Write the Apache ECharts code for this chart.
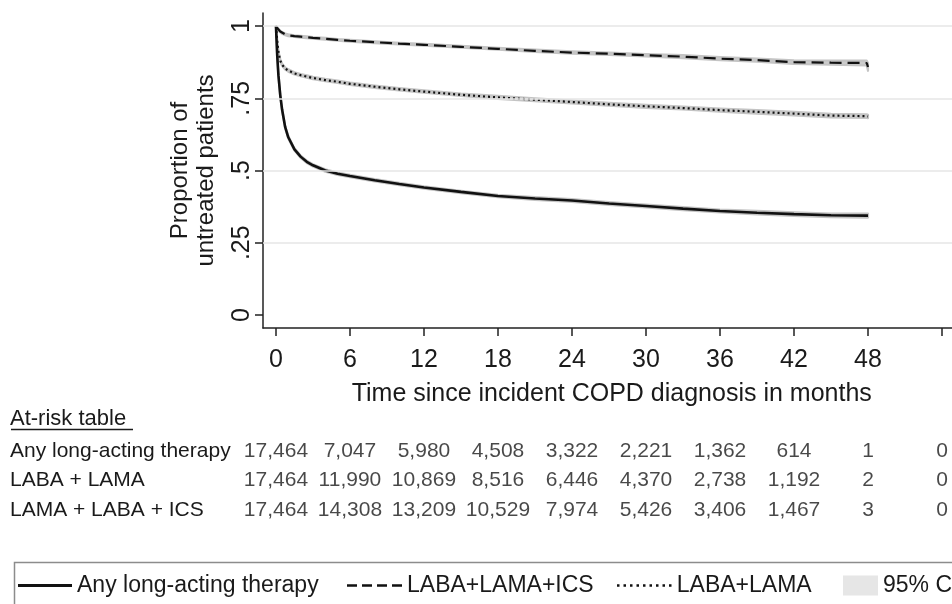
<!DOCTYPE html>
<html>
<head>
<meta charset="utf-8">
<script src="https://cdn.jsdelivr.net/npm/echarts@6/dist/echarts.min.js"></script>
<style>
  html, body { margin: 0; padding: 0; background: #fff; }
  #chart { width: 952px; height: 604px; }
</style>
</head>
<body>
<div id="chart"></div>
<script>
// ---------- data ----------
const time = [0, 0.1, 0.2, 0.35, 0.5, 0.75, 1, 1.5, 2, 2.5, 3, 4, 5, 6, 8, 10, 12, 15, 18, 21, 24, 27, 30, 33, 36, 39, 42, 45, 47.9, 48];

const anyKM = [1, 0.90, 0.83, 0.76, 0.71, 0.65, 0.615, 0.573, 0.548, 0.530, 0.518, 0.500, 0.489, 0.481, 0.466, 0.453, 0.441, 0.426, 0.412, 0.403, 0.396, 0.386, 0.377, 0.368, 0.360, 0.354, 0.349, 0.345, 0.344, 0.344];
const anyLo = [1, 0.896, 0.826, 0.756, 0.706, 0.646, 0.611, 0.569, 0.544, 0.526, 0.514, 0.496, 0.485, 0.477, 0.462, 0.449, 0.437, 0.422, 0.408, 0.398, 0.391, 0.381, 0.372, 0.363, 0.355, 0.348, 0.343, 0.339, 0.337, 0.337];
const anyHi = [1, 0.904, 0.834, 0.764, 0.714, 0.654, 0.619, 0.577, 0.552, 0.534, 0.522, 0.504, 0.493, 0.485, 0.470, 0.457, 0.445, 0.430, 0.416, 0.408, 0.401, 0.391, 0.382, 0.373, 0.365, 0.360, 0.355, 0.351, 0.351, 0.351];

const tripleKM = [1, 0.993, 0.987, 0.981, 0.976, 0.971, 0.968, 0.965, 0.963, 0.961, 0.959, 0.956, 0.952, 0.949, 0.944, 0.939, 0.935, 0.928, 0.921, 0.914, 0.908, 0.904, 0.899, 0.894, 0.887, 0.882, 0.875, 0.873, 0.872, 0.858];
const tripleLo = [1, 0.990, 0.984, 0.978, 0.973, 0.968, 0.965, 0.962, 0.960, 0.958, 0.956, 0.953, 0.949, 0.946, 0.941, 0.936, 0.932, 0.925, 0.918, 0.910, 0.904, 0.900, 0.895, 0.889, 0.882, 0.877, 0.869, 0.866, 0.864, 0.845];
const tripleHi = [1, 0.996, 0.990, 0.984, 0.979, 0.974, 0.971, 0.968, 0.966, 0.964, 0.962, 0.959, 0.955, 0.952, 0.947, 0.942, 0.938, 0.931, 0.924, 0.918, 0.912, 0.908, 0.903, 0.899, 0.892, 0.887, 0.881, 0.880, 0.880, 0.872];

const dualKM = [1, 0.95, 0.91, 0.88, 0.866, 0.853, 0.846, 0.836, 0.830, 0.825, 0.820, 0.813, 0.807, 0.800, 0.790, 0.781, 0.773, 0.762, 0.753, 0.745, 0.737, 0.729, 0.722, 0.716, 0.709, 0.703, 0.697, 0.690, 0.688, 0.687];
const dualLo = [1, 0.946, 0.906, 0.876, 0.862, 0.849, 0.842, 0.832, 0.826, 0.821, 0.816, 0.809, 0.803, 0.796, 0.786, 0.777, 0.769, 0.758, 0.748, 0.740, 0.732, 0.724, 0.717, 0.711, 0.704, 0.697, 0.691, 0.684, 0.682, 0.681];
const dualHi = [1, 0.954, 0.914, 0.884, 0.870, 0.857, 0.850, 0.840, 0.834, 0.829, 0.824, 0.817, 0.811, 0.804, 0.794, 0.785, 0.777, 0.766, 0.758, 0.750, 0.742, 0.734, 0.727, 0.721, 0.714, 0.709, 0.703, 0.696, 0.694, 0.693];

const xTicks = [0, 6, 12, 18, 24, 30, 36, 42, 48, 54];
const xTickLabels = [0, 6, 12, 18, 24, 30, 36, 42, 48];
const yTicks = [0, 0.25, 0.5, 0.75, 1];
const yGrid = [0.25, 0.5, 0.75, 1];

const riskMonths = [0, 6, 12, 18, 24, 30, 36, 42, 48, 54];
const riskRows = ['Any long-acting therapy', 'LABA + LAMA', 'LAMA + LABA + ICS'];
const riskAny = [17464, 7047, 5980, 4508, 3322, 2221, 1362, 614, 1, 0];
const riskDual = [17464, 11990, 10869, 8516, 6446, 4370, 2738, 1192, 2, 0];
const riskTriple = [17464, 14308, 13209, 10529, 7974, 5426, 3406, 1467, 3, 0];

const nameAny = 'Any long-acting therapy';
const nameTriple = 'LABA+LAMA+ICS';
const nameDual = 'LABA+LAMA';
const nameCI = '95% CI';

// ---------- chart ----------
const FONT = '"Liberation Sans", Arial, Helvetica, sans-serif';
const INK = '#1a1a1a';
const chart = echarts.init(document.getElementById('chart'), null, { renderer: 'canvas' });

const X_MIN = -1.05, X_MAX = 55.5;

function band(lo, hi) {
  return {
    type: 'custom', name: nameCI, xAxisIndex: 0, yAxisIndex: 0,
    data: time.map((t, i) => [t, lo[i], hi[i]]),
    encode: { x: 0, y: [1, 2] },
    itemStyle: { color: '#e6e6e6' },
    z: 1, silent: true, clip: true,
    renderItem: function (params, api) {
      if (params.dataIndex !== 0) return null;
      const pts = [];
      for (let i = 0; i < time.length; i++) pts.push(api.coord([time[i], hi[i]]));
      for (let i = time.length - 1; i >= 0; i--) pts.push(api.coord([time[i], lo[i]]));
      return { type: 'polygon', shape: { points: pts }, style: { fill: '#cbcbcb', stroke: '#c4c4c4', lineWidth: 2.2, lineJoin: 'round' } };
    }
  };
}

function kmLine(name, ys, width, type) {
  return {
    type: 'line', name: name, xAxisIndex: 0, yAxisIndex: 0,
    data: time.map((t, i) => [t, ys[i]]),
    showSymbol: false, symbol: 'none', z: 3, silent: true,
    lineStyle: { color: '#111', width: width, type: type },
    itemStyle: { color: '#111' }
  };
}

function riskSeries(row, arr) {
  return {
    type: 'scatter', xAxisIndex: 1, yAxisIndex: 1, symbolSize: 0, silent: true,
    data: riskMonths.map((m, i) => [m, row, arr[i]]),
    encode: { x: 0, y: 1 },
    label: {
      show: true, position: 'inside', fontSize: 21, color: INK, fontFamily: FONT,
      formatter: p => Number(p.value[2]).toLocaleString('en-US')
    }
  };
}

const legendBase = {
  orient: 'horizontal', top: 574, padding: 0, itemGap: 0,
  itemWidth: 55, itemHeight: 2.5, selectedMode: false,
  textStyle: { fontSize: 23, color: INK, fontFamily: FONT }
};

const iconSolid = 'path://M0,0h54v3h-54z';
const iconDash = 'path://M0,0h10v2.5h-10zM15,0h10v2.5h-10zM30,0h10v2.5h-10zM45,0h10v2.5h-10z';
const iconDot = 'path://M0,0h2.5v2.5h-2.5zM6.5,0h2.5v2.5h-2.5zM13,0h2.5v2.5h-2.5zM19.5,0h2.5v2.5h-2.5zM26,0h2.5v2.5h-2.5zM32.5,0h2.5v2.5h-2.5zM39,0h2.5v2.5h-2.5zM45.5,0h2.5v2.5h-2.5zM52,0h2.5v2.5h-2.5z';

const option = {
  animation: false,
  backgroundColor: '#fff',
  textStyle: { fontFamily: FONT },
  grid: [
    { left: 263, right: -8.5, top: 13, bottom: 276, containLabel: false, outerBoundsMode: 'none' },
    { left: 263, right: -8.5, top: 436.25, height: 88.5, containLabel: false, outerBoundsMode: 'none' }
  ],
  xAxis: [
    {
      type: 'value', gridIndex: 0, min: X_MIN, max: X_MAX,
      axisLine: { show: true, onZero: false, lineStyle: { color: '#222', width: 1.5 } },
      axisTick: { show: true, length: 8, customValues: xTicks, lineStyle: { color: '#222', width: 1.5 } },
      axisLabel: { show: true, customValues: xTickLabels, fontSize: 25, color: INK, margin: 20, fontFamily: FONT },
      splitLine: { show: false },
      name: 'Time since incident COPD diagnosis in months',
      nameLocation: 'middle', nameGap: 54,
      nameTextStyle: { fontSize: 25, color: INK, fontFamily: FONT }
    },
    {
      type: 'value', gridIndex: 1, min: X_MIN, max: X_MAX, show: false
    }
  ],
  yAxis: [
    {
      type: 'value', gridIndex: 0, min: -0.045, max: 1.045,
      axisLine: { show: true, onZero: false, lineStyle: { color: '#222', width: 1.5 } },
      axisTick: { show: true, length: 8, customValues: yTicks, lineStyle: { color: '#222', width: 1.5 } },
      axisLabel: {
        show: true, customValues: yTicks, rotate: 90, fontSize: 25, color: INK, margin: 8, fontFamily: FONT,
        formatter: v => (v === 0 ? '0' : v === 1 ? '1' : String(v).replace(/^0/, ''))
      },
      splitLine: { show: false },
      name: 'Proportion of\nuntreated patients',
      nameLocation: 'middle', nameRotate: 90, nameGap: 44,
      nameTextStyle: { fontSize: 24, lineHeight: 26, color: INK, fontFamily: FONT, align: 'center' }
    },
    {
      type: 'category', gridIndex: 1, data: riskRows, inverse: true,
      axisLine: { show: false }, axisTick: { show: false }, splitLine: { show: false },
      axisLabel: { show: true, align: 'left', margin: 253, fontSize: 21, color: INK, fontFamily: FONT }
    }
  ],
  legend: [
    Object.assign({}, legendBase, { left: 18, itemWidth: 54, itemHeight: 3, data: [{ name: nameAny, icon: iconSolid }] }),
    Object.assign({}, legendBase, { left: 347, data: [{ name: nameTriple, icon: iconDash }] }),
    Object.assign({}, legendBase, { left: 617, data: [{ name: nameDual, icon: iconDot }] }),
    Object.assign({}, legendBase, { left: 843, itemWidth: 35, itemHeight: 20, data: [{ name: nameCI, icon: 'rect', itemStyle: { color: '#e6e6e6' } }] })
  ],
  graphic: [
    { type: 'rect', left: 12, top: 560, shape: { x: 0, y: 0, width: 980, height: 70 },
      style: { fill: 'none', stroke: '#8c8c8c', lineWidth: 1.5 }, silent: true, z: -1 },
    { type: 'text', left: 10, top: 408, style: { text: 'At-risk table', fontSize: 22, fill: INK, font: '22px ' + FONT }, silent: true },
    { type: 'line', shape: { x1: 11, y1: 429.5, x2: 133, y2: 429.5 }, style: { stroke: INK, lineWidth: 1.5 }, silent: true }
  ],
  series: [
    {
      type: 'line', name: 'gridlines', xAxisIndex: 0, yAxisIndex: 0, data: [], z: 0, silent: true,
      markLine: {
        silent: true, symbol: ['none', 'none'], label: { show: false },
        lineStyle: { color: '#e6e6e6', width: 1.5, type: 'solid' },
        emphasis: { disabled: true },
        data: yGrid.map(v => ({ yAxis: v }))
      }
    },
    band(anyLo, anyHi),
    band(tripleLo, tripleHi),
    band(dualLo, dualHi),
    kmLine(nameAny, anyKM, 2.6, 'solid'),
    kmLine(nameTriple, tripleKM, 2.2, [12, 6]),
    kmLine(nameDual, dualKM, 2.2, [2, 3]),
    riskSeries(0, riskAny),
    riskSeries(1, riskDual),
    riskSeries(2, riskTriple)
  ]
};

chart.setOption(option);
</script>
</body>
</html>
